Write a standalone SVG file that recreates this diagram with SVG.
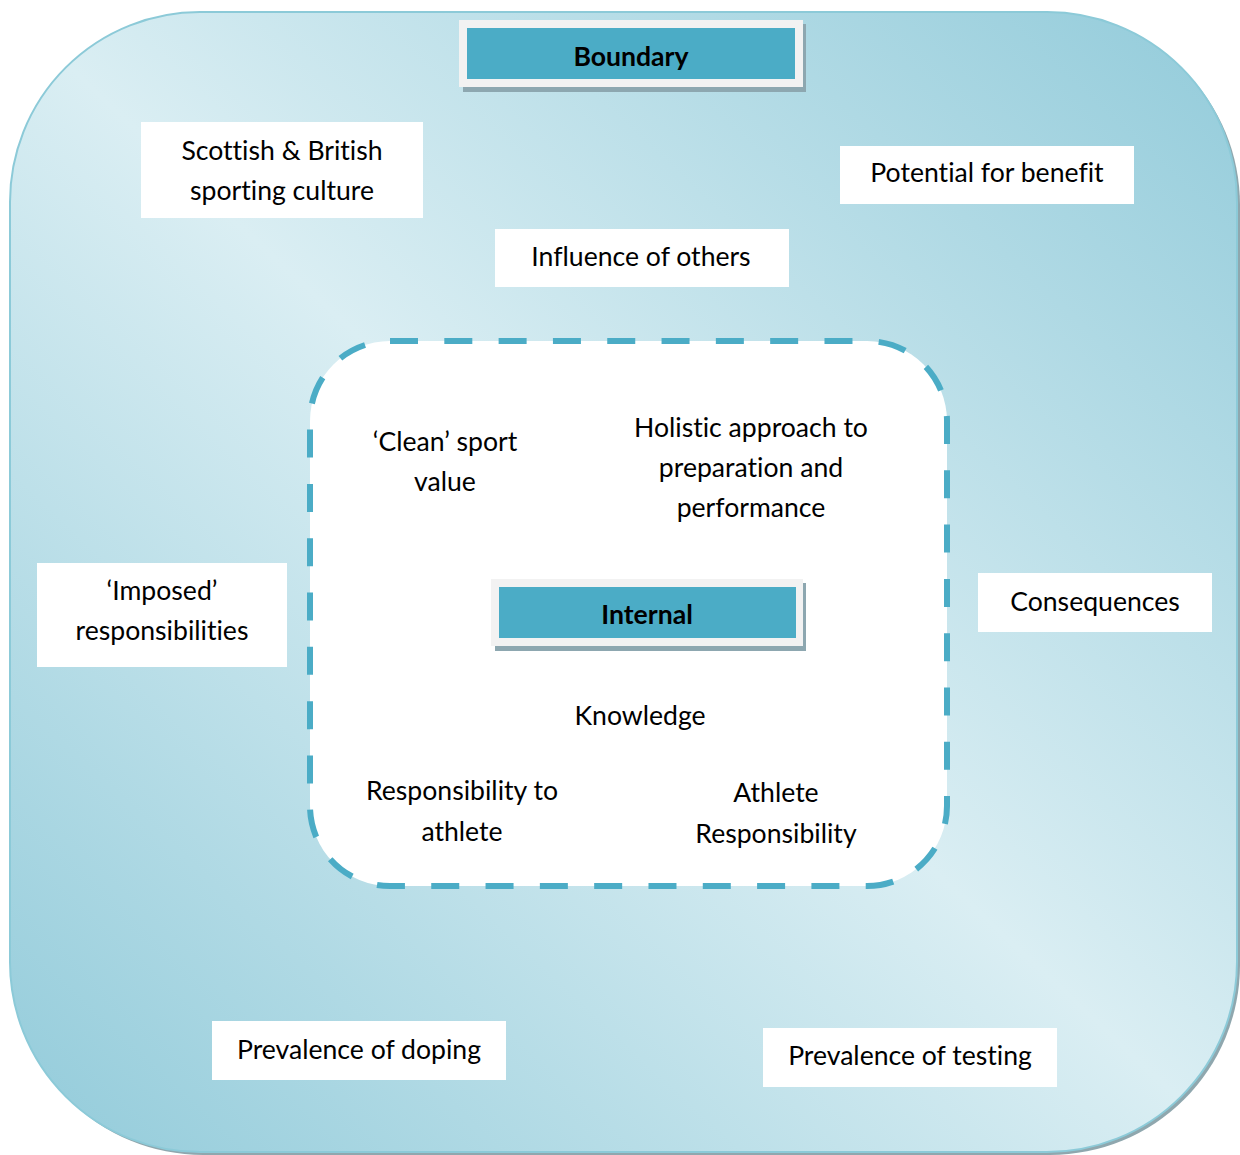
<svg xmlns="http://www.w3.org/2000/svg" width="1240" height="1155" viewBox="0 0 1240 1155">
<defs>
<linearGradient id="bg" x1="1" y1="0" x2="0" y2="1">
<stop offset="0" stop-color="#92cbda"/>
<stop offset="0.5" stop-color="#daeef3"/>
<stop offset="1" stop-color="#92cbda"/>
</linearGradient>
</defs>
<style>
.t{font-family:Lato,"Open Sans","Liberation Sans",sans-serif;font-size:26.6px;fill:#000;text-anchor:middle;font-variant-ligatures:none}
.b{font-weight:bold}
.box{fill:#fff}
.frame{fill:#f2f2f2}
.teal{fill:#4bacc6}
.shadow{fill:#8da7b0}
</style>
<rect id="outer-shadow" x="13" y="15" width="1227" height="1140" rx="190" fill="#8fa7ae"/>
<g id="boundary-area">
<rect x="10" y="12" width="1227" height="1140" rx="190" fill="url(#bg)" stroke="#8ccad8" stroke-width="2"/>
</g>
<g id="internal-area">
<rect x="310" y="341" width="637" height="545" rx="80" fill="#fff" stroke="#4bacc6" stroke-width="6" stroke-dasharray="28 26.31"/>
</g>
<g id="boundary-title">
<rect class="shadow" x="463" y="24" width="343" height="68"/>
<rect class="frame" x="459" y="20" width="344" height="67"/>
<rect class="teal" x="467" y="28" width="328" height="51"/>
<text class="t b" x="631" y="66">Boundary</text>
</g>
<g id="internal-title">
<rect class="shadow" x="495" y="583" width="311" height="68"/>
<rect class="frame" x="491" y="579" width="312" height="67"/>
<rect class="teal" x="499" y="587" width="297" height="51"/>
<text class="t b" x="647" y="624">Internal</text>
</g>
<g id="scottish">
<rect class="box" x="141" y="122" width="282" height="96"/>
<text class="t" x="282" y="160">Scottish &amp; British</text>
<text class="t" x="282" y="200">sporting culture</text>
</g>
<g id="potential">
<rect class="box" x="840" y="146" width="294" height="58"/>
<text class="t" x="987" y="182">Potential for benefit</text>
</g>
<g id="influence">
<rect class="box" x="495" y="229" width="294" height="58"/>
<text class="t" x="641" y="266">Influence of others</text>
</g>
<g id="imposed">
<rect class="box" x="37" y="563" width="250" height="104"/>
<text class="t" x="162" y="600">‘Imposed’</text>
<text class="t" x="162" y="640">responsibilities</text>
</g>
<g id="consequences">
<rect class="box" x="978" y="573" width="234" height="59"/>
<text class="t" x="1095" y="611">Consequences</text>
</g>
<g id="doping">
<rect class="box" x="212" y="1021" width="294" height="59"/>
<text class="t" x="359" y="1059">Prevalence of doping</text>
</g>
<g id="testing">
<rect class="box" x="763" y="1028" width="294" height="59"/>
<text class="t" x="910" y="1065">Prevalence of testing</text>
</g>
<g id="clean">
<text class="t" x="445" y="451">‘Clean’ sport</text>
<text class="t" x="445" y="491">value</text>
</g>
<g id="holistic">
<text class="t" x="751" y="437">Holistic approach to</text>
<text class="t" x="751" y="477">preparation and</text>
<text class="t" x="751" y="517">performance</text>
</g>
<g id="knowledge">
<text class="t" x="640" y="725">Knowledge</text>
</g>
<g id="resp-to-athlete">
<text class="t" x="462" y="800">Responsibility to</text>
<text class="t" x="462" y="841">athlete</text>
</g>
<g id="athlete-resp">
<text class="t" x="776" y="802">Athlete</text>
<text class="t" x="776" y="843">Responsibility</text>
</g>
<g id="connectors"></g>
</svg>
